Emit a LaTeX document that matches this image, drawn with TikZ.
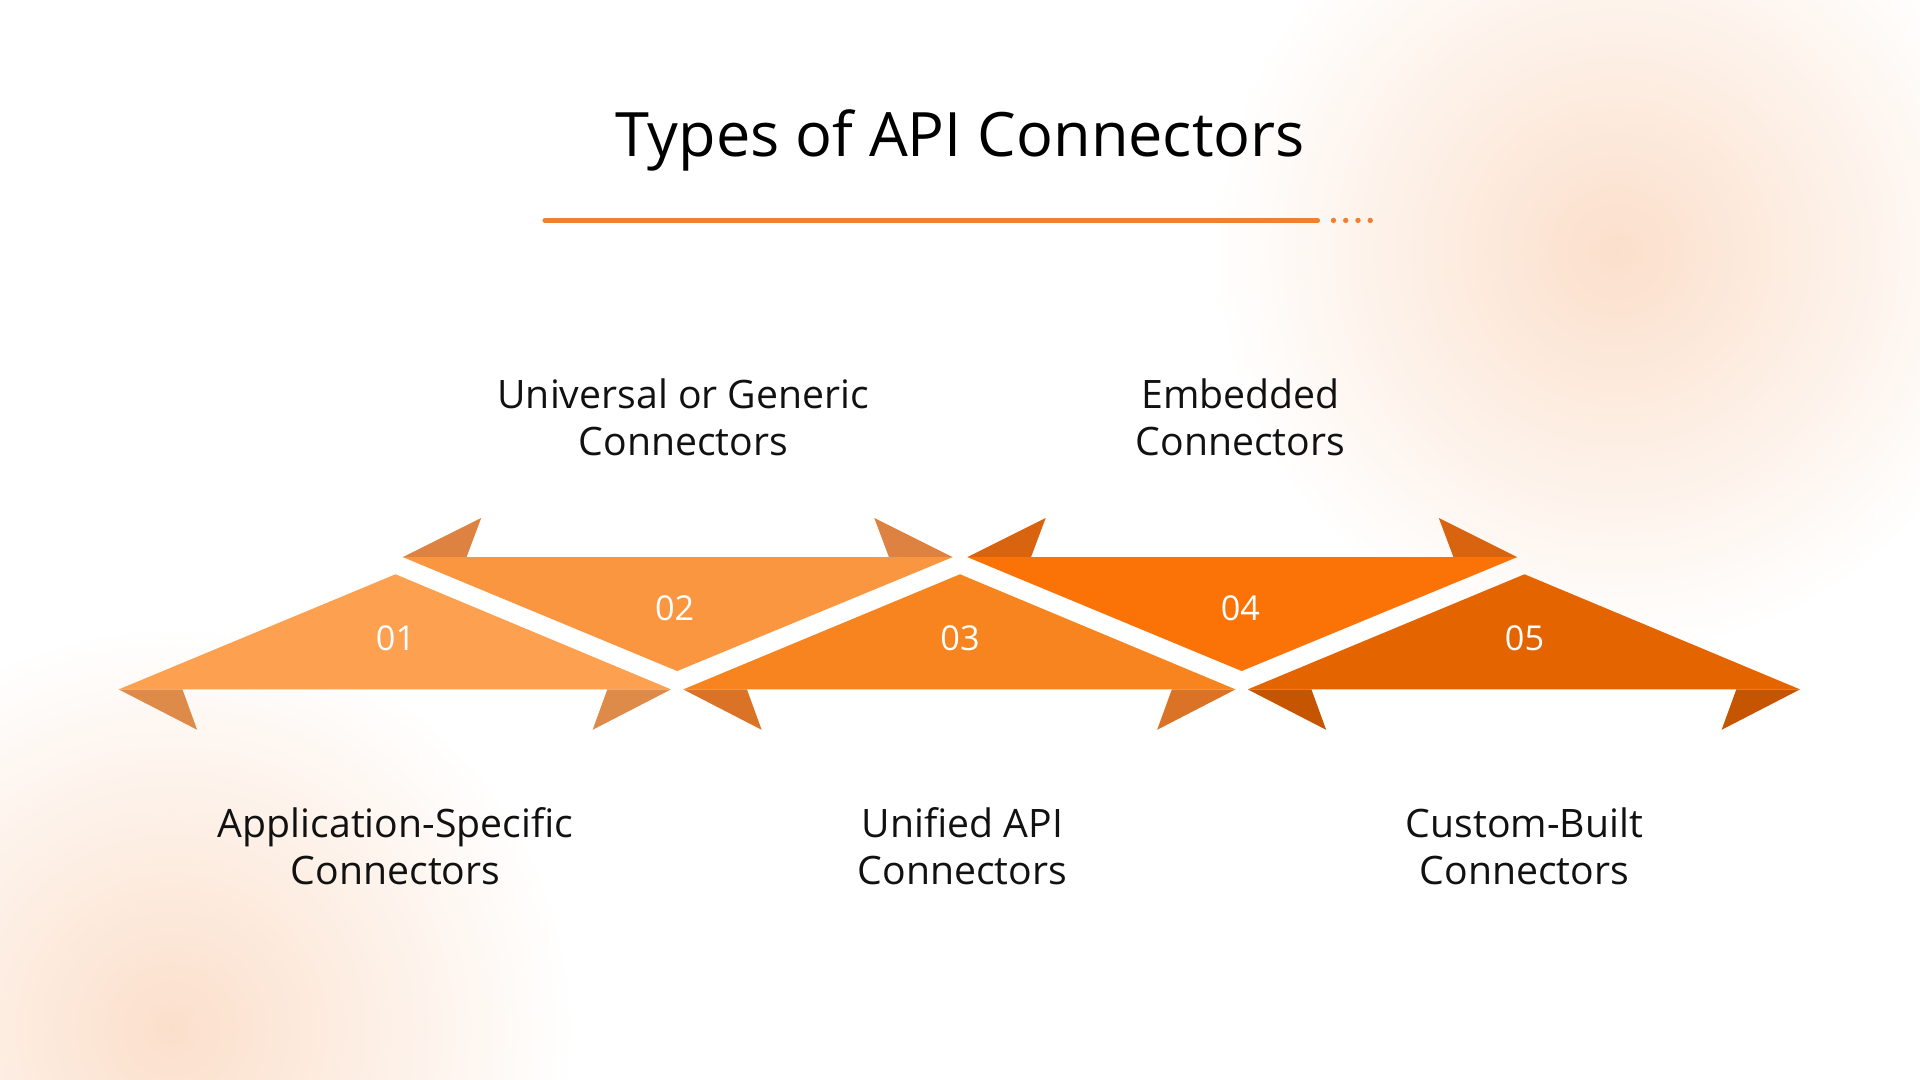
\documentclass[tikz,border=0pt]{standalone}
\usepackage{fontspec}
\setmainfont{Open Sans}
\begin{document}
\begin{tikzpicture}[x=0.5pt,y=-0.5pt,
  lbl/.style={font=\fontsize{16}{19}\selectfont\color[HTML]{111111}, align=center},
  num/.style={font=\fontsize{14}{16}\selectfont, text=white}]
\definecolor{cA}{HTML}{FDA050}\definecolor{cAd}{HTML}{DE8A48}
\definecolor{cB}{HTML}{FB9640}\definecolor{cBd}{HTML}{DD8240}
\definecolor{cC}{HTML}{F7841E}\definecolor{cCd}{HTML}{DA7326}
\definecolor{cD}{HTML}{FB7307}\definecolor{cDd}{HTML}{D86410}
\definecolor{cE}{HTML}{E46400}\definecolor{cEd}{HTML}{C55500}
\definecolor{accent}{HTML}{F08030}
\useasboundingbox (0,0) rectangle (1568,882);
\begin{scope}
\clip (0,0) rectangle (1568,882);
\fill[white] (0,0) rectangle (1568,882);
\shade[inner color=accent!25, outer color=white] (1320,205) circle (330);
\shade[inner color=accent!25, outer color=white] (140,840) circle (330);
\end{scope}
% title
\node[font=\fontsize{25}{30}\selectfont] (title) at (784,115) {Types of API Connectors};
\draw[accent, line width=2pt, line cap=round] (445,180) -- (1076,180);
\foreach \x in {1089,1099,1109,1119} \fill[accent] (\x,180) circle (2.2);
% upward triangles
\foreach \cx/\c in {323/A,784/C,1245/E}{
  \fill[c\c d] (\cx-226,563) -- (\cx-174,563) -- (\cx-162,596) -- cycle;
  \fill[c\c d] (\cx+225,563) -- (\cx+173,563) -- (\cx+161,596) -- cycle;
  \fill[c\c] (\cx,469) -- (\cx+225,563) -- (\cx-226,563) -- cycle;
}
% downward triangles
\foreach \cx/\c in {553/B,1014/D}{
  \fill[c\c d] (\cx-224,455) -- (\cx-172,455) -- (\cx-160,423) -- cycle;
  \fill[c\c d] (\cx+225,455) -- (\cx+173,455) -- (\cx+161,423) -- cycle;
  \fill[c\c] (\cx-224,455) -- (\cx+225,455) -- (\cx,548) -- cycle;
}
\node[num] (n1) at (323,521) {01};
\node[num] (n2) at (551,497) {02};
\node[num] (n3) at (784,521) {03};
\node[num] (n4) at (1013,497) {04};
\node[num] (n5) at (1245,521) {05};
\node[lbl] (l1) at (323,691) {Application-Specific\\Connectors};
\node[lbl] (l2) at (558,341) {Universal or Generic\\Connectors};
\node[lbl] (l3) at (786,691) {Unified API\\Connectors};
\node[lbl] (l4) at (1013,341) {Embedded\\Connectors};
\node[lbl] (l5) at (1245,691) {Custom-Built\\Connectors};
\end{tikzpicture}
\end{document}
